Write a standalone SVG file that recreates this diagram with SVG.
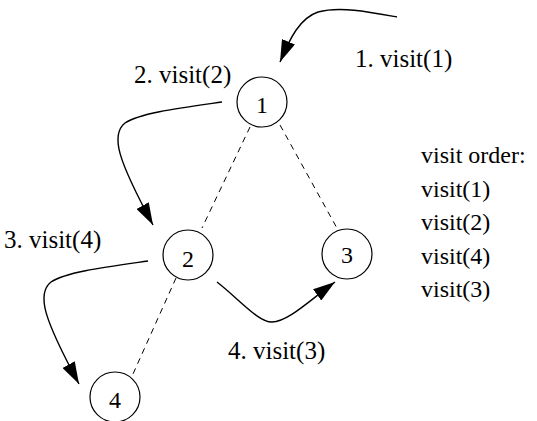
<svg xmlns="http://www.w3.org/2000/svg" width="537" height="421" viewBox="0 0 537 421">
<defs>
<style>
.node circle { fill: #fff; stroke: #000; stroke-width: 1.2; }
.tree { stroke: #000; stroke-width: 1; stroke-dasharray: 6 5; fill: none; }
.call { stroke: #000; stroke-width: 1.4; fill: none; marker-end: url(#ah); }
.lbl { font-family: "Liberation Serif", "DejaVu Serif", serif; font-size: 25px; fill: #000; }
.lst { font-family: "Liberation Serif", "DejaVu Serif", serif; font-size: 24px; fill: #000; }
.num { font-family: "Liberation Serif", "DejaVu Serif", serif; font-size: 24px; fill: #000; text-anchor: middle; }
</style>
<marker id="ah" viewBox="0 0 22 14" refX="22" refY="7" markerWidth="22" markerHeight="14" markerUnits="userSpaceOnUse" orient="auto">
<path d="M0,0 L22,7 L0,14 Z" fill="#000"/>
</marker>
</defs>
<rect width="537" height="421" fill="#fff"/>
<g id="connectors">
<line class="tree" x1="250" y1="127" x2="202" y2="228"/>
<line class="tree" x1="280" y1="125" x2="338" y2="230"/>
<line class="tree" x1="176" y1="278" x2="133" y2="374"/>
<path class="call" d="M397,17 C370,12 340,6 318,12 C300,18 290,38 280,62"/>
<path class="call" d="M222,102 C180,108 140,113 125,123 C110,135 118,160 153,225"/>
<path class="call" d="M148,261 C106,267 66,272 51,282 C36,294 44,319 79,384"/>
<path class="call" d="M217,282 C240,300 258,322 272,322 C288,322 310,300 335,282"/>
</g>
<g id="node1" class="node"><circle cx="262" cy="102" r="25"/><text class="num" x="262" y="113">1</text></g>
<g id="node2" class="node"><circle cx="188" cy="255" r="25"/><text class="num" x="188" y="267">2</text></g>
<g id="node3" class="node"><circle cx="347" cy="254" r="25"/><text class="num" x="347" y="263">3</text></g>
<g id="node4" class="node"><circle cx="115" cy="397" r="25"/><text class="num" x="115" y="408">4</text></g>
<g id="labels">
<text class="lbl" x="355" y="67">1. visit(1)</text>
<text class="lbl" x="134" y="83">2. visit(2)</text>
<text class="lbl" x="4" y="248">3. visit(4)</text>
<text class="lbl" x="228" y="359">4. visit(3)</text>
<text class="lst" x="421" y="163">visit order:</text>
<text class="lst" x="421" y="197">visit(1)</text>
<text class="lst" x="421" y="230">visit(2)</text>
<text class="lst" x="421" y="264">visit(4)</text>
<text class="lst" x="421" y="297">visit(3)</text>
</g>
</svg>
